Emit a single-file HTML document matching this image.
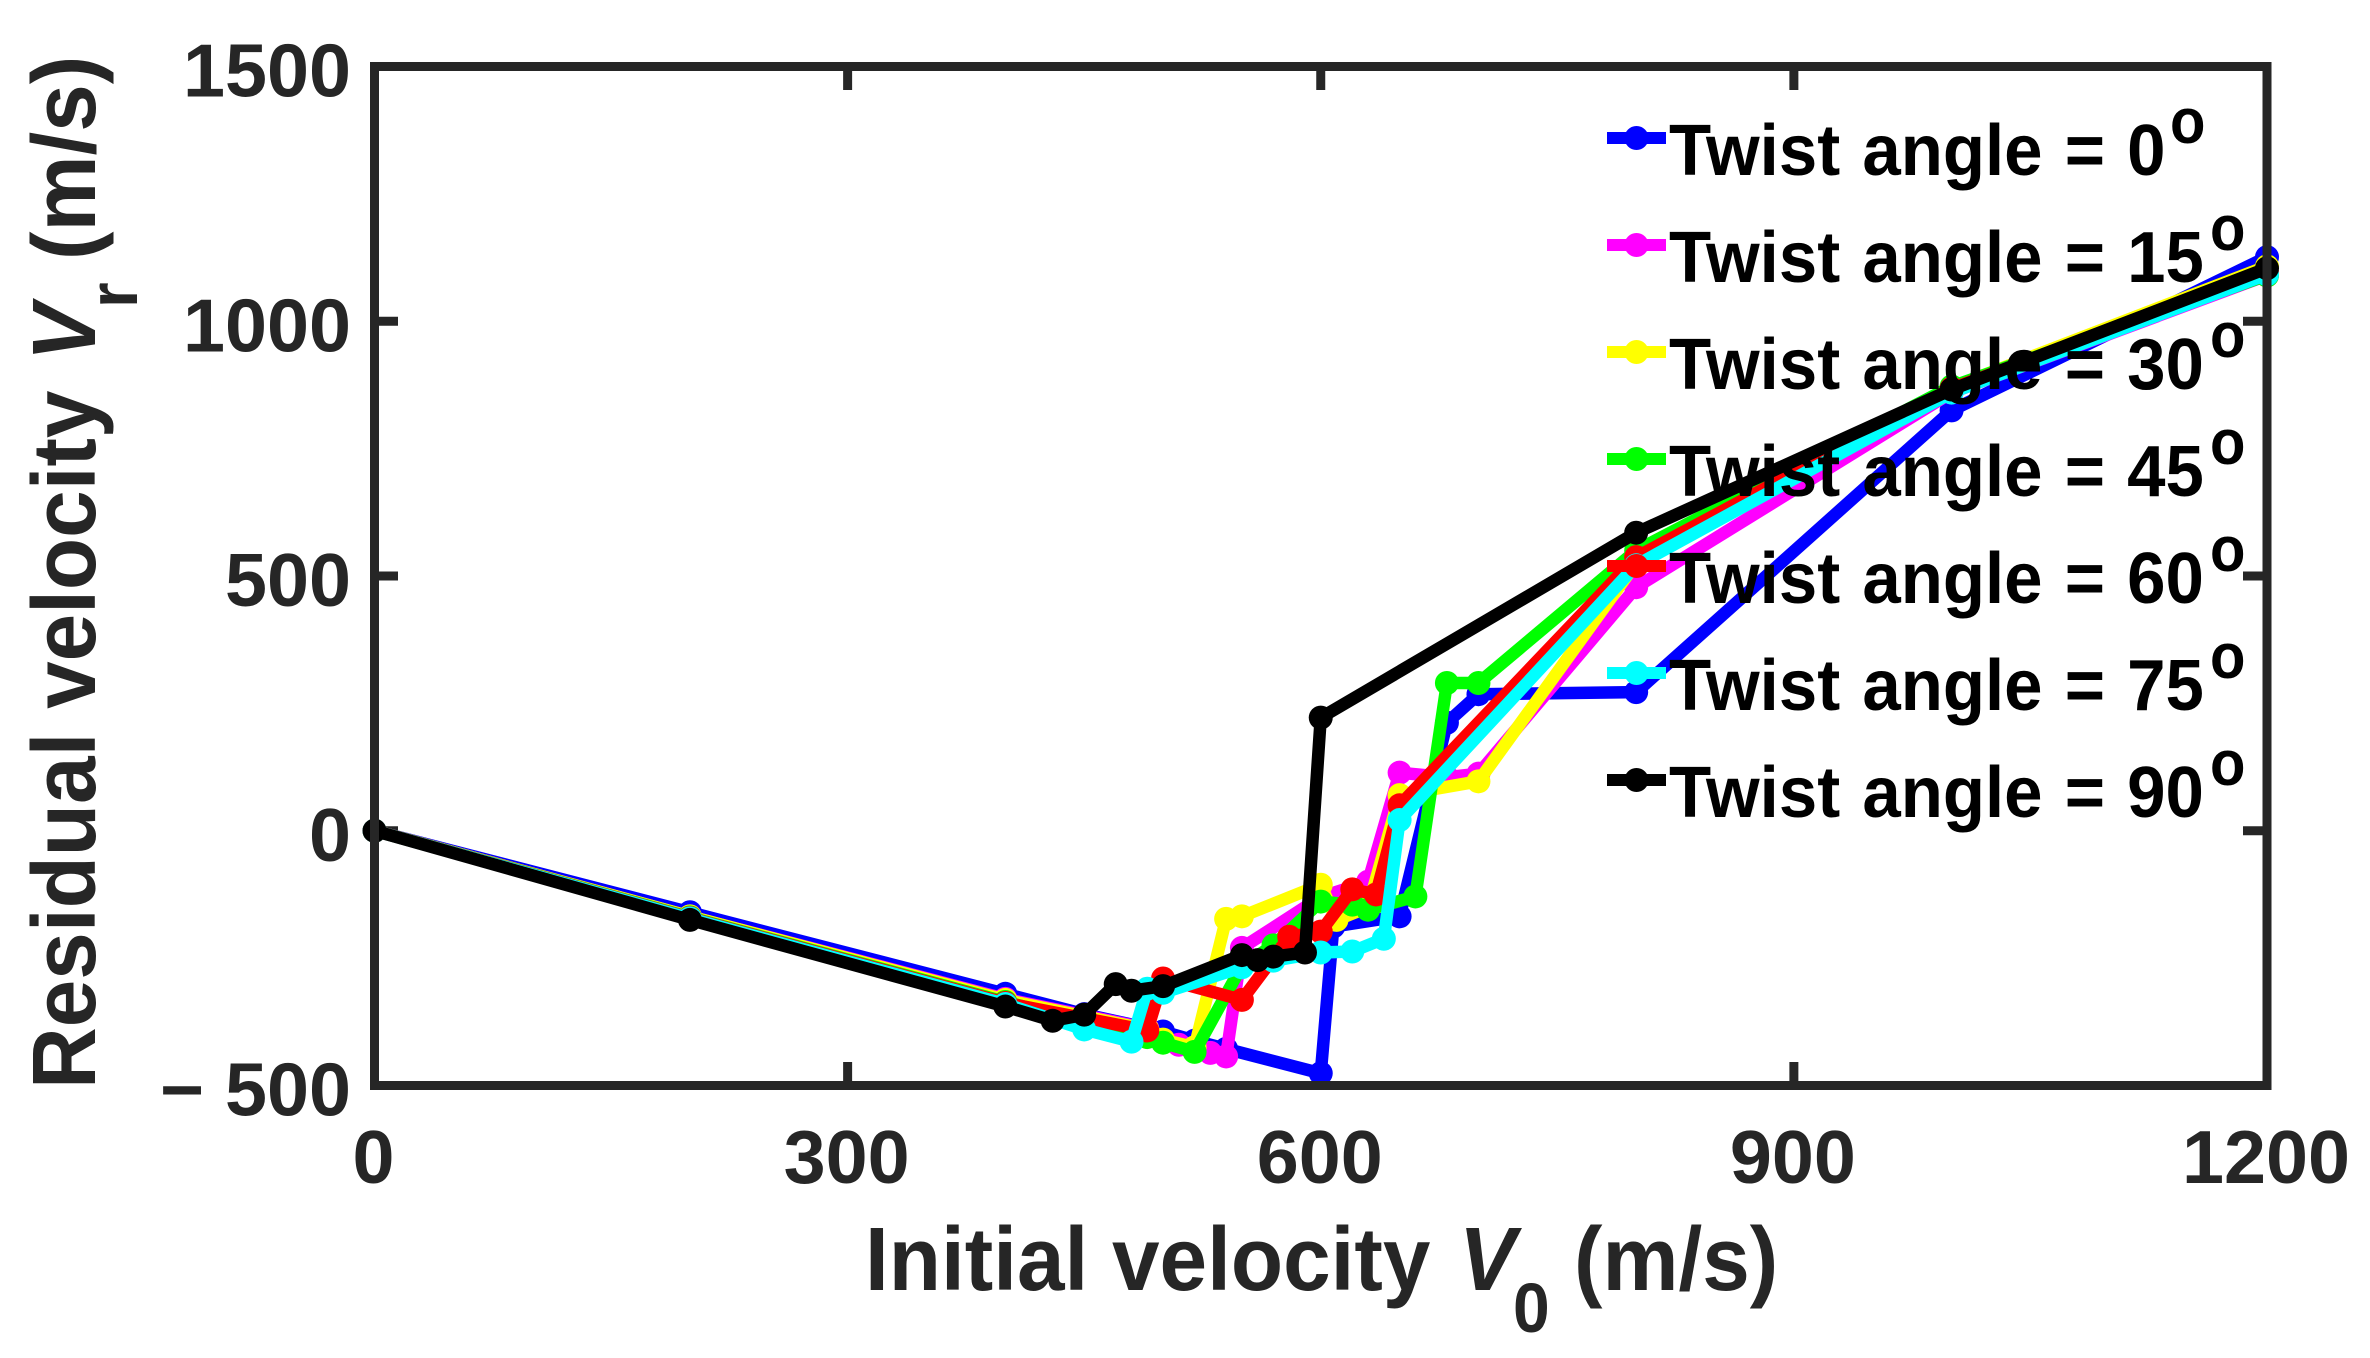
<!DOCTYPE html>
<html>
<head>
<meta charset="utf-8">
<title>Residual velocity vs initial velocity</title>
<style>
html,body{margin:0;padding:0;background:#fff;}
svg{display:block;}
text{font-family:"Liberation Sans",Arial,sans-serif;font-weight:bold;}
</style>
</head>
<body>
<svg id="chart" xmlns="http://www.w3.org/2000/svg" width="2370" height="1358" viewBox="0 0 2370 1358">
<rect width="2370" height="1358" fill="#fff"/>
<g id="axes-ticks"></g>
<g id="tick-labels"></g>
<g id="series"></g>
<rect x="374.5" y="66.5" width="1892.5" height="1019" fill="none" stroke="#262626" stroke-width="9"/>
<g id="legend"></g>
<g fill="#262626" font-size="85.5">
<text transform="translate(865,1290) scale(1,1.05)">Initial velocity</text>
<text transform="translate(1459,1290) scale(1,1.05)" font-style="italic">V</text>
<text transform="translate(1513,1332) scale(1,1.05)" font-size="66">0</text>
<text transform="translate(1574,1290) scale(1,1.05)">(m/s)</text>
</g>
<g fill="#262626" font-size="85.5">
<text transform="translate(95,1089) rotate(-90) scale(1,1.05)">Residual velocity</text>
<text transform="translate(95,361) rotate(-90) scale(1,1.05)" font-style="italic">V</text>
<text transform="translate(137,308) rotate(-90) scale(1,1.05)" font-size="66">r</text>
<text transform="translate(95,260) rotate(-90) scale(1,1.05)">(m/s)</text>
</g>
</svg>
<script>
var xTicks = [0, 300, 600, 900, 1200];
var yTicks = [-500, 0, 500, 1000, 1500];
var xTickLabels = ["0", "300", "600", "900", "1200"];
var yTickLabels = ["\u2212 500", "0", "500", "1000", "1500"];
var angles = ["0", "15", "30", "45", "60", "75", "90"];

var x0deg = [0,200,400,450,500,520,540,600,608,650,680,700,800,1000,1200];
var y0deg = [0,-160,-320,-360,-394,-412,-428,-476,-188,-168,212,268,272,825,1126];

var x15deg = [0,200,400,490,510,530,540,550,600,630,650,680,700,800,1000,1200];
var y15deg = [0,-168,-330,-388,-420,-436,-443,-230,-130,-100,114,105,112,478,860,1090];

var x30deg = [0,200,400,490,500,520,540,550,600,610,630,650,700,800,1000,1200];
var y30deg = [0,-168,-332,-390,-410,-425,-173,-168,-106,-175,-150,70,97,525,870,1108];

var x45deg = [0,200,400,490,500,520,550,570,600,620,630,660,680,700,800,1000,1200];
var y45deg = [0,-170,-336,-405,-416,-434,-265,-225,-139,-145,-155,-129,290,290,550,872,1090];

var x60deg = [0,200,400,490,500,550,580,600,620,635,650,800,1000,1200];
var y60deg = [0,-171,-338,-392,-290,-332,-208,-198,-115,-125,50,537,868,1095];

var x75deg = [0,200,400,450,480,490,500,550,570,600,620,640,650,800,1000,1200];
var y75deg = [0,-172,-340,-390,-414,-310,-318,-268,-255,-239,-237,-212,21,521,860,1092];

var x90deg = [0,200,400,430,450,470,480,500,550,560,570,590,600,800,1000,1200];
var y90deg = [0,-175,-345,-373,-361,-301,-314,-305,-244,-254,-247,-239,222,585,866,1104];

var NS = "http://www.w3.org/2000/svg";
function sx(v){ return 374.5 + (v - 0) * (1892.5 / 1200); }
function sy(v){ return 1085.5 - (v + 500) * (1019 / 2000); }
function mk(tag, attrs, parent){
  var e = document.createElementNS(NS, tag);
  for (var k in attrs) e.setAttribute(k, attrs[k]);
  parent.appendChild(e);
  return e;
}

var tg = document.getElementById("axes-ticks");
var lg = document.getElementById("tick-labels");
xTicks.forEach(function(v, i){
  var px = sx(v);
  var a = mk("line", {x1:px, x2:px, y1:1085.5, y2:1062, stroke:"#262626", "stroke-width":9}, tg);
  
  
  var b = mk("line", {x1:px, x2:px, y1:66.5, y2:90, stroke:"#262626", "stroke-width":9}, tg);
  
  
  var t = mk("text", {x:px - 1, y:1183, "text-anchor":"middle", "font-size":75.5, fill:"#262626"}, lg);
  
  
  t.textContent = xTickLabels[i];
});
yTicks.forEach(function(v, i){
  var py = sy(v);
  var a = mk("line", {x1:374.5, x2:398, y1:py, y2:py, stroke:"#262626", "stroke-width":9}, tg);
  
  
  var b = mk("line", {x1:2267, x2:2243, y1:py, y2:py, stroke:"#262626", "stroke-width":9}, tg);
  
  
  var t = mk("text", {x:351, y:py + 30, "text-anchor":"end", "font-size":75.5, fill:"#262626"}, lg);
  
  
  t.textContent = yTickLabels[i];
});

var seriesX = [x0deg, x15deg, x30deg, x45deg, x60deg, x75deg, x90deg];
var seriesY = [y0deg, y15deg, y30deg, y45deg, y60deg, y75deg, y90deg];
var colors = ["#0000ff", "#ff00ff", "#ffff00", "#00ff00", "#ff0000", "#00ffff", "#000000"];

var sg = document.getElementById("series");
seriesX.forEach(function(xs, s){
  var ys = seriesY[s];
  var g = mk("g", {}, sg);
  
  
  var pts = xs.map(function(v, i){ return sx(v) + "," + sy(ys[i]); }).join(" ");
  var line = mk("polyline", {points:pts, fill:"none", stroke:colors[s], "stroke-width":12.5, "stroke-linejoin":"round"}, g);
  
  
  xs.forEach(function(v, i){
    var c = mk("circle", {cx:sx(v), cy:sy(ys[i]), r:12, fill:colors[s]}, g);
    
    
  });
});

var leg = document.getElementById("legend");
angles.forEach(function(a, i){
  var cy = 138 + i * 107;
  var g = mk("g", {}, leg);
  
  
  var l = mk("line", {x1:1607, x2:1666, y1:cy, y2:cy, stroke:colors[i], "stroke-width":12}, g);
  
  
  var c = mk("circle", {cx:1636.5, cy:cy, r:12, fill:colors[i]}, g);
  
  
  var t = mk("text", {transform:"translate(1669," + (cy + 37) + ") scale(1,1.05)", "font-size":69, "word-spacing":"3", fill:"#000"}, g);
  
  
  t.textContent = "Twist angle = " + a;
  var o = mk("text", {transform:"translate(" + (a.length > 1 ? 2210 : 2170) + "," + (cy + 5) + ") scale(1,1.1)", "font-size":58, fill:"#000"}, g);
  
  
  o.textContent = "o";
});
</script>
</body>
</html>
